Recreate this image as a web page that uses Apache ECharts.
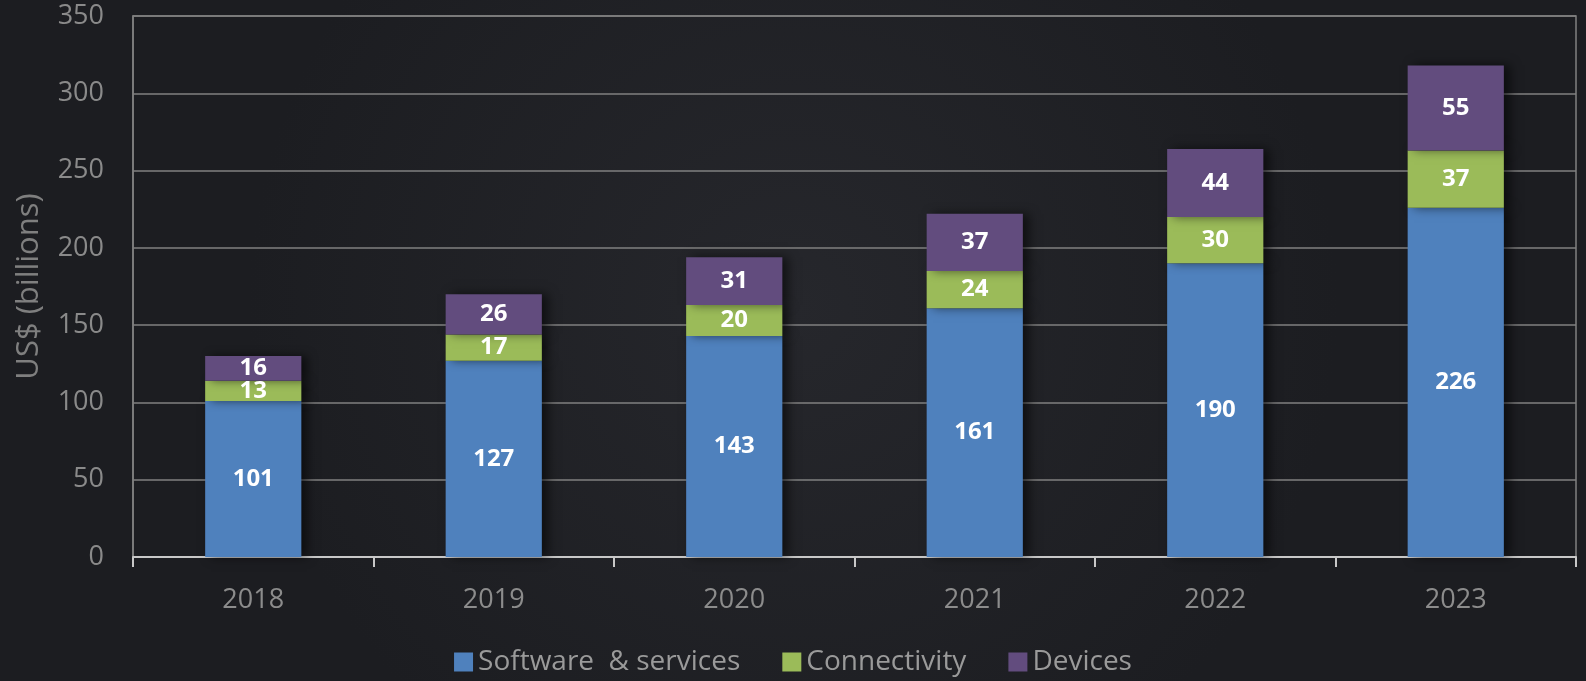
<!DOCTYPE html>
<html>
<head>
<meta charset="utf-8">
<script src="https://cdn.jsdelivr.net/npm/echarts@6/dist/echarts.min.js"></script>
<style>
  html, body { margin: 0; padding: 0; background: #1f2024; }
  #chart { width: 1586px; height: 681px; }
</style>
</head>
<body>
<div id="chart"></div>
<script>
var years = ['2018', '2019', '2020', '2021', '2022', '2023'];
var software = [101, 127, 143, 161, 190, 226];
var connectivity = [13, 17, 20, 24, 30, 37];
var devices = [16, 26, 31, 37, 44, 55];

var chart = echarts.init(document.getElementById('chart'));

function barSeries(name, data, color) {
    return {
        name: name,
        type: 'bar',
        stack: 'total',
        data: data,
        barWidth: '40%',
        itemStyle: {
            color: color,
            shadowColor: 'rgba(0,0,0,0.55)',
            shadowBlur: 10,
            shadowOffsetX: 6
        },
        label: {
            show: true,
            position: 'inside',
            color: '#ffffff',
            fontFamily: 'Open Sans',
            fontWeight: 'bold',
            fontSize: 24
        }
    };
}

var option = {
    backgroundColor: {
        type: 'radial', x: 0.5, y: 0.45, r: 0.8,
        colorStops: [
            { offset: 0, color: '#26272c' },
            { offset: 1, color: '#1c1d21' }
        ]
    },
    textStyle: { fontFamily: 'Open Sans' },
    grid: {
        left: 133, right: 10, top: 16, bottom: 124,
        show: true,
        borderColor: '#808080',
        borderWidth: 1.5
    },
    legend: {
        bottom: 0,
        left: 'center',
        itemWidth: 19,
        itemHeight: 19,
        itemGap: 42,
        icon: 'rect',
        textStyle: { color: '#9a9a9a', fontSize: 28, fontFamily: 'Open Sans' },
        data: ['Software  & services', 'Connectivity', 'Devices']
    },
    xAxis: {
        type: 'category',
        data: years,
        axisLine: { show: true, lineStyle: { color: '#c8c8c8', width: 2 } },
        axisTick: { show: true, length: 10, lineStyle: { color: '#c8c8c8', width: 2 } },
        axisLabel: { color: '#8c8c8c', fontSize: 27, margin: 30 }
    },
    yAxis: {
        type: 'value',
        min: 0, max: 350, interval: 50,
        name: 'US$ (billions)',
        nameLocation: 'middle',
        nameRotate: 90,
        nameGap: 88,
        nameTextStyle: { color: '#7f7f7f', fontSize: 31 },
        axisLine: { show: true, lineStyle: { color: '#808080', width: 1.5 } },
        axisTick: { show: false },
        axisLabel: { color: '#8a8a8a', fontSize: 27, margin: 29 },
        splitLine: { lineStyle: { color: '#808080', width: 1.5 } }
    },
    series: [
        barSeries('Software  & services', software, '#4f81bd'),
        barSeries('Connectivity', connectivity, '#9bbb59'),
        barSeries('Devices', devices, '#624c7e')
    ]
};

chart.setOption(option);
</script>
</body>
</html>
